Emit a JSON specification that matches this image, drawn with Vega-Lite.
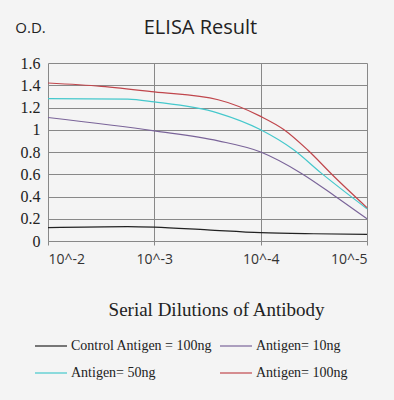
{
  "$schema": "https://vega.github.io/schema/vega-lite/v6.json",
  "width": 319,
  "height": 178,
  "autosize": {"type": "none"},
  "padding": {"left": 48, "top": 63, "right": 27, "bottom": 159},
  "background": "#f4f4f4",
  "title": {
    "text": "ELISA Result",
    "font": "Open Sans",
    "fontSize": 20,
    "fontWeight": "normal",
    "color": "#222222",
    "anchor": "middle",
    "frame": "group",
    "baseline": "alphabetic",
    "offset": -34,
    "dx": -7
  },
  "data": {
    "values": [
      {"series": "Control Antigen = 100ng", "d": 2, "od": 0.12},
      {"series": "Control Antigen = 100ng", "d": 2.75, "od": 0.13},
      {"series": "Control Antigen = 100ng", "d": 3, "od": 0.125},
      {"series": "Control Antigen = 100ng", "d": 3.5, "od": 0.1},
      {"series": "Control Antigen = 100ng", "d": 4, "od": 0.075},
      {"series": "Control Antigen = 100ng", "d": 4.5, "od": 0.065},
      {"series": "Control Antigen = 100ng", "d": 5, "od": 0.06},
      {"series": "Antigen= 10ng", "d": 2, "od": 1.11},
      {"series": "Antigen= 10ng", "d": 3, "od": 0.99},
      {"series": "Antigen= 10ng", "d": 3.6, "od": 0.9},
      {"series": "Antigen= 10ng", "d": 4, "od": 0.8},
      {"series": "Antigen= 10ng", "d": 4.38, "od": 0.61},
      {"series": "Antigen= 10ng", "d": 4.69, "od": 0.41},
      {"series": "Antigen= 10ng", "d": 5, "od": 0.2},
      {"series": "Antigen= 50ng", "d": 2, "od": 1.28},
      {"series": "Antigen= 50ng", "d": 2.75, "od": 1.275},
      {"series": "Antigen= 50ng", "d": 3, "od": 1.25},
      {"series": "Antigen= 50ng", "d": 3.6, "od": 1.15},
      {"series": "Antigen= 50ng", "d": 4, "od": 1.0},
      {"series": "Antigen= 50ng", "d": 4.31, "od": 0.82},
      {"series": "Antigen= 50ng", "d": 4.57, "od": 0.61},
      {"series": "Antigen= 50ng", "d": 5, "od": 0.29},
      {"series": "Antigen= 100ng", "d": 2, "od": 1.42},
      {"series": "Antigen= 100ng", "d": 2.5, "od": 1.39},
      {"series": "Antigen= 100ng", "d": 3, "od": 1.34},
      {"series": "Antigen= 100ng", "d": 3.6, "od": 1.27},
      {"series": "Antigen= 100ng", "d": 4, "od": 1.12},
      {"series": "Antigen= 100ng", "d": 4.22, "od": 1.0},
      {"series": "Antigen= 100ng", "d": 4.44, "od": 0.82},
      {"series": "Antigen= 100ng", "d": 4.69, "od": 0.58},
      {"series": "Antigen= 100ng", "d": 5, "od": 0.3}
    ]
  },
  "mark": {"type": "line", "interpolate": "monotone", "strokeWidth": 1.2},
  "encoding": {
    "x": {
      "field": "d",
      "type": "quantitative",
      "scale": {"domain": [2, 5], "nice": false, "zero": false},
      "axis": {
        "values": [2, 3, 4, 5],
        "labelExpr": "'10^-' + datum.value",
        "labelFont": "Open Sans",
        "labelFontSize": 14,
        "labelColor": "#333333",
        "labelPadding": 7,
        "ticks": true,
        "tickSize": 4,
        "tickColor": "#888888",
        "domainColor": "#888888",
        "gridColor": "#888888",
        "gridOpacity": 1,
        "title": "Serial Dilutions of Antibody",
        "titleFont": "Liberation Serif",
        "titleFontSize": 19,
        "titleFontWeight": "normal",
        "titleColor": "#222222",
        "titleX": 168,
        "titleY": 74,
        "titleAlign": "center",
        "titleBaseline": "alphabetic"
      }
    },
    "y": {
      "field": "od",
      "type": "quantitative",
      "scale": {"domain": [0, 1.6], "nice": false},
      "axis": {
        "values": [0, 0.2, 0.4, 0.6, 0.8, 1, 1.2, 1.4, 1.6],
        "format": ".2~f",
        "labelFont": "Liberation Serif",
        "labelFontSize": 16,
        "labelColor": "#222222",
        "labelPadding": 8,
        "ticks": false,
        "domain": false,
        "gridColor": "#888888",
        "gridOpacity": 1,
        "title": "O.D.",
        "titleAngle": 0,
        "titleFont": "Open Sans",
        "titleFontSize": 15,
        "titleFontWeight": "normal",
        "titleColor": "#222222",
        "titleX": -18,
        "titleY": -31,
        "titleAlign": "center",
        "titleBaseline": "alphabetic"
      }
    },
    "color": {
      "field": "series",
      "type": "nominal",
      "scale": {
        "domain": ["Control Antigen = 100ng", "Antigen= 50ng", "Antigen= 10ng", "Antigen= 100ng"],
        "range": ["#222222", "#45c8cc", "#7a6499", "#c0464c"]
      },
      "legend": {
        "title": null,
        "orient": "none",
        "legendX": -14,
        "legendY": 266,
        "columns": 2,
        "columnPadding": 4,
        "rowPadding": 3,
        "symbolType": "stroke",
        "symbolSize": 1024,
        "symbolStrokeWidth": 1.2,
        "labelFont": "Liberation Serif",
        "labelFontSize": 14,
        "labelColor": "#222222",
        "labelOffset": 3,
        "labelLimit": 300
      }
    }
  },
  "config": {
    "view": {"stroke": null}
  }
}
